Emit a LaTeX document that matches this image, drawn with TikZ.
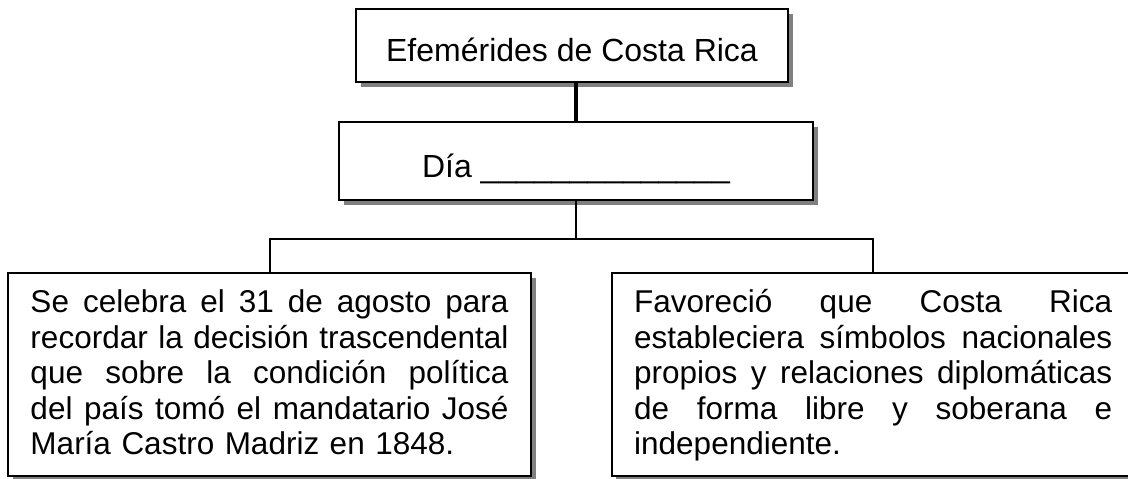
\documentclass[tikz,border=0pt]{standalone}
\usepackage{fontspec}
\setmainfont{Liberation Sans}
\usetikzlibrary{shadows}
\newlength{\tw}
\setlength{\tw}{478pt}
\newcommand{\jline}[1]{\leavevmode\hbox to \tw{\spaceskip=0.278em plus 1fil\relax\strut #1}}
\newcommand{\fline}[1]{\leavevmode\hbox to \tw{\spaceskip=0.278em plus 1fil\relax\rule{0pt}{29pt}\strut #1}}
\newcommand{\lline}[1]{\leavevmode\hbox to \tw{\strut #1\hfil}}
\tikzset{
  boxnode/.style={draw=black, line width=2pt, fill=white, inner sep=0pt,
    drop shadow={shadow xshift=4.5pt, shadow yshift=-4.5pt, fill=black!50, opacity=1},
    font=\fontsize{31.5}{35.5}\selectfont},
  smallbox/.style={boxnode, text height=32pt, text depth=0pt, font=\fontsize{32}{35.5}\selectfont},
  bigbox/.style={boxnode, minimum width=523pt, minimum height=203pt, text width=\tw, align=left},
  thickconn/.style={line width=3.5pt},
  conn/.style={line width=2pt}
}
\begin{document}
\begin{tikzpicture}[x=1pt,y=-1pt]
\useasboundingbox (0,0) rectangle (1128,479);
\node[smallbox, minimum width=432pt, minimum height=73pt] (top) at (572,45.5) {Efemérides de Costa Rica};
\node[smallbox, minimum width=474pt, minimum height=78pt] (dia) at (576,161) {Día \_\_\_\_\_\_\_\_\_\_\_\_\_\_};
\node[bigbox] (left) at (269.5,374.5) {%
\fline{Se celebra el 31 de agosto para}\\
\jline{recordar la decisión trascendental}\\
\jline{que sobre la condición política}\\
\jline{del país tomó el mandatario José}\\
\lline{María Castro Madriz en 1848.}};
\node[bigbox] (right) at (873.2,374.5) {%
\fline{Favoreció que Costa Rica}\\
\jline{estableciera símbolos nacionales}\\
\jline{propios y relaciones diplomáticas}\\
\jline{de forma libre y soberana e}\\
\lline{independiente.}};
\coordinate (j) at (576,239);
\draw[thickconn] (dia.north) -- (dia.north |- top.south);
\draw[conn] (dia.south) -- (j);
\draw[conn] (left.north) |- (j) -| (right.north);
\end{tikzpicture}
\end{document}
